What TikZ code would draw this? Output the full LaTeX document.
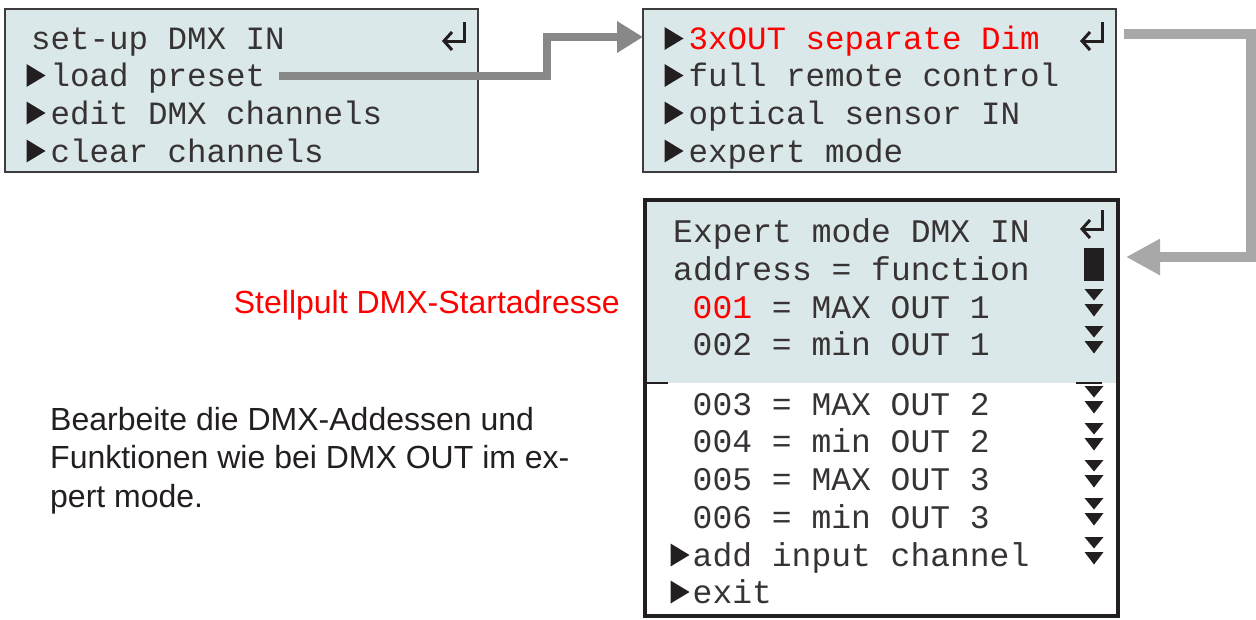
\documentclass[tikz,border=0pt]{standalone}
\usepackage{fontspec}
\setmainfont{Liberation Sans}
\newfontfamily\lcdfont{Liberation Mono}
\usetikzlibrary{arrows.meta}
\definecolor{lcdbg}{RGB}{219,232,233}
\definecolor{ink}{RGB}{35,31,32}
\definecolor{lcdink}{RGB}{55,51,52}
\definecolor{lcdred}{RGB}{255,0,0}
\definecolor{arrowA}{RGB}{136,136,136}
\definecolor{arrowB}{RGB}{168,168,168}
\definecolor{frame}{RGB}{60,60,60}
\begin{document}
\begin{tikzpicture}[x=1pt,y=-1pt,
  lcdbox/.style={draw=frame, line width=1.2pt, fill=lcdbg, anchor=north west, inner sep=0pt, outer sep=0pt, minimum width=473pt, minimum height=163pt},
  lcdtxt/.style={font=\lcdfont\fontsize{32.5}{32.5}\selectfont, text=lcdink, inner sep=0pt, anchor=base west},
  lcdtxtb/.style={font=\lcdfont\fontsize{33}{33}\selectfont, text=lcdink, inner sep=0pt, anchor=base west},
  note/.style={font=\fontsize{32}{38}\selectfont, text=ink, inner sep=0pt, anchor=base west},
  arrA/.style={draw=arrowA, line width=7.5pt, line join=miter, -{Triangle[length=26pt,width=30pt]}},
  arrB/.style={draw=arrowB, line width=9.5pt, line join=miter, -{Triangle[length=34pt,width=34pt]}},
  playtri/.pic={\fill[ink] (-9.5,-11.5) -- (9.5,0) -- (-9.5,11.5) -- cycle;},
  downpair/.pic={\fill[ink] (-9.5,0) -- (9.5,0) -- (0,11.5) -- cycle;
                 \fill[ink] (-9.5,15) -- (9.5,15) -- (0,27.5) -- cycle;},
  retsym/.pic={\draw[ink, line width=3pt, line join=miter] (10,-14) -- (10,5) -- (-9,5);
               \draw[ink, line width=3pt, line join=miter] (-2,-4) -- (-10,5) -- (-2,14);}
]
\useasboundingbox (0,0) rectangle (1256,619);
\fill[white] (0,0) rectangle (1256,619);

% ---------- box 1 ----------
\node[lcdbox] (b1) at (5,9) {};
\node[lcdtxt] (t11) at (31,49.5) {set-up DMX IN};
\node[lcdtxt] (t12) at (50.5,86.5) {load preset};
\node[lcdtxt] (t13) at (50.5,124) {edit DMX channels};
\node[lcdtxt] (t14) at (50.5,162) {clear channels};
\pic at (36,75.5) {playtri};
\pic at (36,113) {playtri};
\pic at (36,151) {playtri};
\pic at (454,36) {retsym};

% ---------- box 2 ----------
\node[lcdbox] (b2) at (643,9) {};
\node[lcdtxt, text=lcdred] (t21) at (688.5,49.5) {3xOUT separate Dim};
\node[lcdtxt] (t22) at (688.5,86.5) {full remote control};
\node[lcdtxt] (t23) at (688.5,124) {optical sensor IN};
\node[lcdtxt] (t24) at (688.5,162) {expert mode};
\pic at (674,38.5) {playtri};
\pic at (674,75.5) {playtri};
\pic at (674,113) {playtri};
\pic at (674,151) {playtri};
\pic at (1092,36) {retsym};

% ---------- box 3 ----------
\fill[white] (645,200) rectangle (1118,616);
\fill[lcdbg] (645,200) rectangle (1118,383);
\node[draw=ink, line width=4pt, anchor=north west, minimum width=473pt, minimum height=416pt, inner sep=0pt, outer sep=0pt] (b3) at (645,200) {};
\node[lcdtxtb] (t31) at (673,242) {Expert mode DMX IN};
\node[lcdtxtb] (t32) at (673,280) {address = function};
\node[lcdtxtb] (t33) at (692.5,318) {\textcolor{lcdred}{001} = MAX OUT 1};
\node[lcdtxtb] (t34) at (692.5,355) {002 = min OUT 1};
\node[lcdtxtb] (t35) at (692.5,415) {003 = MAX OUT 2};
\node[lcdtxtb] (t36) at (692.5,452) {004 = min OUT 2};
\node[lcdtxtb] (t37) at (692.5,490) {005 = MAX OUT 3};
\node[lcdtxtb] (t38) at (692.5,528) {006 = min OUT 3};
\node[lcdtxtb] (t39) at (692.5,566) {add input channel};
\node[lcdtxtb] (t3a) at (692.5,603) {exit};
\pic at (680,555) {playtri};
\pic at (680,592) {playtri};
\pic at (1092,224) {retsym};
\fill[ink] (1084,248) rectangle (1104,281);
\fill[ink] (647,382) rectangle (668,384);
\fill[ink] (1076,382) rectangle (1102,384);
\foreach \t in {289,326,386,423,460,498,537} { \pic at (1094,\t) {downpair}; }

% ---------- notes ----------
\node[note, text=lcdred, anchor=base east] (lbl) at (620,313) {Stellpult DMX-Startadresse};
\node[note] (p1) at (50,430) {Bearbeite die DMX-Addessen und};
\node[note] (p2) at (50,468.5) {Funktionen wie bei DMX OUT im ex-};
\node[note] (p3) at (50,507) {pert mode.};

% ---------- connectors ----------
\coordinate (k1) at (547,37);
\draw[arrA] ([xshift=14pt,yshift=2pt]t12.east) -| (k1) -- (b2.west |- k1);
\coordinate (r1) at (1251,34);
\coordinate (r2) at (1251,257);
\draw[arrB] ([xshift=8pt]b2.east |- r1) -- (r1) -- (r2) -- ([xshift=8pt]b3.east |- r2);
\end{tikzpicture}
\end{document}
